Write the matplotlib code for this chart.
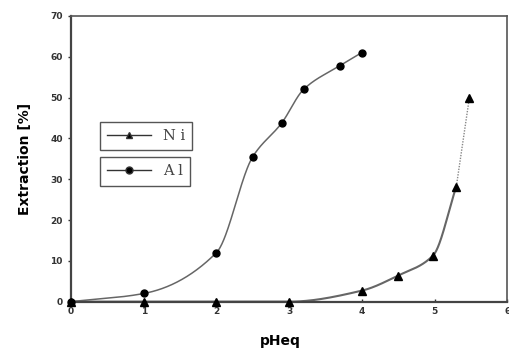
import numpy as np
import matplotlib
matplotlib.use("Agg")
import matplotlib.pyplot as plt
from matplotlib.lines import Line2D

al_x = [0, 1, 2, 2.5, 2.9, 3.2, 3.7, 4.0]
al_y = [0, 2, 12, 35.5, 43.8, 52, 57.8, 61]
ni_x = [0, 1, 2, 3, 4, 4.5, 4.98, 5.3, 5.48]
ni_y = [0, 0, 0, 0, 2.7, 6.4, 11.3, 28.2, 50]
x_ticks = [0, 1, 2, 3, 4, 5, 6]
y_ticks = [0, 10, 20, 30, 40, 50, 60, 70]


def pchip(x, y, n=60):
    x = np.asarray(x, float); y = np.asarray(y, float)
    h = np.diff(x); d = np.diff(y) / h
    m = np.zeros_like(x)
    for k in range(1, len(x) - 1):
        if d[k - 1] * d[k] > 0:
            w1 = 2 * h[k] + h[k - 1]; w2 = h[k] + 2 * h[k - 1]
            m[k] = (w1 + w2) / (w1 / d[k - 1] + w2 / d[k])
    m[0] = d[0]; m[-1] = d[-1]
    xs, ys = [], []
    for k in range(len(x) - 1):
        t = np.linspace(0, 1, n)
        h00 = 2 * t**3 - 3 * t**2 + 1; h10 = t**3 - 2 * t**2 + t
        h01 = -2 * t**3 + 3 * t**2; h11 = t**3 - t**2
        xs.append(x[k] + t * h[k])
        ys.append(h00 * y[k] + h10 * h[k] * m[k] + h01 * y[k + 1] + h11 * h[k] * m[k + 1])
    return np.concatenate(xs), np.concatenate(ys)


fig = plt.figure(figsize=(5.09, 3.52), dpi=100)
ax = fig.add_axes([0.1395, 0.143, 0.857, 0.812])

lc = "#666666"
sx, sy = pchip(al_x, al_y)
ax.plot(sx, sy, color=lc, lw=1.1, zorder=2)
ax.plot(al_x, al_y, 'o', color="black", ms=5, zorder=3, clip_on=False)

sx, sy = pchip(ni_x[:-1], ni_y[:-1])
ax.plot(sx, sy, color=lc, lw=1.5, zorder=2)
ax.plot(ni_x[-2:], ni_y[-2:], color="#888888", lw=1.0, ls=(0, (1, 1)), zorder=2)
ax.plot(ni_x, ni_y, '^', color="black", ms=5.5, zorder=3, clip_on=False)

ax.set_xlim(0, 6)
ax.set_ylim(0, 70)
ax.set_xticks(x_ticks)
ax.set_yticks(y_ticks)
ax.tick_params(axis='both', labelsize=6.5, colors="#333333", length=2.5, width=1)
ax.tick_params(axis='x', direction='in', pad=4)
ax.tick_params(axis='y', direction='out')
for lab in ax.get_xticklabels() + ax.get_yticklabels():
    lab.set_fontweight('bold')
for s in ['left', 'bottom']:
    ax.spines[s].set_linewidth(1.6)
    ax.spines[s].set_color("#444444")
for s in ['top', 'right']:
    ax.spines[s].set_linewidth(1.2)
    ax.spines[s].set_color("#555555")

ax.set_xlabel("pHeq", fontsize=10, fontweight='bold', labelpad=13)
ax.xaxis.label.set_x(0.48)
ax.set_ylabel("Extraction [%]", fontsize=10, fontweight='bold', labelpad=13)

h1 = Line2D([], [], color="#333333", lw=1, marker='^', markersize=5, markerfacecolor='black')
h2 = Line2D([], [], color="#333333", lw=1, marker='o', markersize=5, markerfacecolor='black')
common = dict(loc='upper left', fancybox=False, edgecolor="#555555",
              prop={'family': 'DejaVu Serif', 'size': 10.5}, handlelength=3.0,
              borderpad=0.5, handletextpad=0.8, framealpha=1, borderaxespad=0)
leg1 = ax.legend([h1], ["N i"], bbox_to_anchor=(0.0665, 0.629), **common)
leg1.get_frame().set_linewidth(1)
for t in leg1.get_texts():
    t.set_color("#444444")
ax.add_artist(leg1)
leg2 = ax.legend([h2], ["A l"], bbox_to_anchor=(0.0665, 0.506), **common)
leg2.get_frame().set_linewidth(1)
for t in leg2.get_texts():
    t.set_color("#444444")

fig.savefig("out.png", dpi=100)
